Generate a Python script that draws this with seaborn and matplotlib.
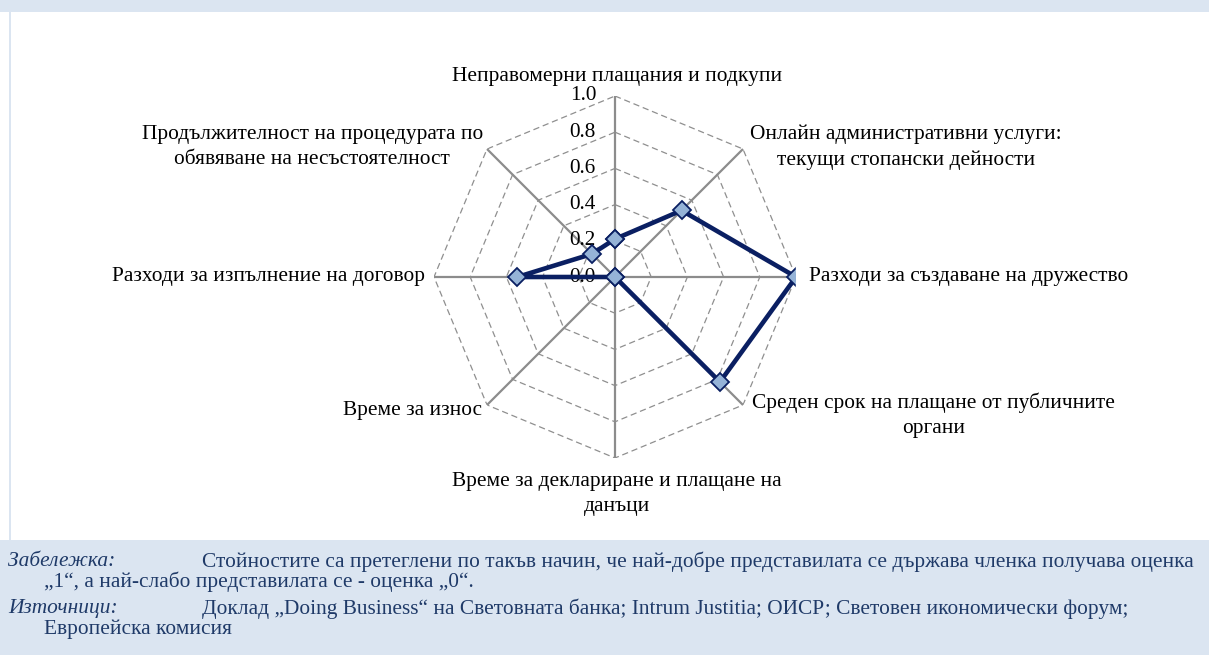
import numpy as np
import pandas as pd
import matplotlib
matplotlib.use("Agg")
import matplotlib.pyplot as plt
from matplotlib.patches import Rectangle
import seaborn as sns

# ---- data ----
categories = [
    "Неправомерни плащания и подкупи",
    "Онлайн административни услуги:\nтекущи стопански дейности",
    "Разходи за създаване на дружество",
    "Среден срок на плащане от публичните\nоргани",
    "Време за деклариране и плащане на\nданъци",
    "Време за износ",
    "Разходи за изпълнение на договор",
    "Продължителност на процедурата по\nобявяване на несъстоятелност",
]
values = [0.21, 0.52, 1.00, 0.82, 0.00, 0.00, 0.54, 0.18]
radial_ticks = [0.0, 0.2, 0.4, 0.6, 0.8, 1.0]
radial_tick_labels = ["0.0", "0.2", "0.4", "0.6", "0.8", "1.0"]
note_label = "Забележка:"
note_text_1 = "Стойностите са претеглени по такъв начин, че най-добре представилата се държава членка получава оценка"
note_text_2 = "„1“, а най-слабо представилата се - оценка „0“."
src_label = "Източници:"
src_text_1 = "Доклад „Doing Business“ на Световната банка; Intrum Justitia; ОИСР; Световен икономически форум;"
src_text_2 = "Европейска комисия"

W, H = 1209, 655
sns.set_theme(style="white")
plt.rcParams["font.family"] = ["Liberation Serif", "DejaVu Serif"]

fig = plt.figure(figsize=(W / 100, H / 100), dpi=100)
fig.patch.set_facecolor("white")

band = "#DBE5F1"
def px(x, y):
    return x / W, 1 - y / H

# top band, footer band, left border
fig.patches.append(Rectangle((0, 1 - 12 / H), 1, 12 / H, transform=fig.transFigure,
                             facecolor=band, edgecolor="none", zorder=0))
fig.patches.append(Rectangle((0, 0), 1, (H - 540) / H, transform=fig.transFigure,
                             facecolor=band, edgecolor="none", zorder=0))
fig.patches.append(Rectangle((9 / W, (H - 540) / H), 2 / W, 528 / H, transform=fig.transFigure,
                             facecolor=band, edgecolor="none", zorder=0))

# radar axes: centre (615,277), radius 181 px
cx, cy, R = 615, 277, 181
ax = fig.add_axes([(cx - R) / W, (H - cy - R) / H, 2 * R / W, 2 * R / H], projection="polar")
ax.set_theta_zero_location("N")
ax.set_theta_direction(-1)
ax.set_ylim(0, 1)
ax.grid(False)
ax.spines["polar"].set_visible(False)
ax.patch.set_alpha(0)

n = len(categories)
angles = np.arange(n) * 2 * np.pi / n
closed_angles = np.append(angles, 2 * np.pi)

# octagon grid
for r in radial_ticks[1:]:
    ax.plot(closed_angles, [r] * (n + 1), color="#8f8f8f", lw=0.9, ls=(0, (5, 3)), zorder=1)
# spokes
for a in angles:
    ax.plot([a, a], [0, 1], color="#8c8c8c", lw=1.6, zorder=2)

# series
df = pd.DataFrame({"theta": closed_angles, "value": values + [values[0]]})
sns.lineplot(data=df, x="theta", y="value", sort=False, estimator=None, ax=ax,
             color="#0A1F62", lw=3.3, marker="D", markersize=9,
             markerfacecolor="#95B3D7", markeredgecolor="#0A1F62", markeredgewidth=1.3,
             zorder=5, legend=False)
ax.set_xlabel("")
ax.set_ylabel("")
ax.set_ylim(0, 1)
ax.set_xticks([])
ax.set_yticks([])

# radial tick labels
for r, lab in zip(radial_ticks, radial_tick_labels):
    ax.annotate(lab, xy=(0, r), xytext=(-19, 0), textcoords="offset pixels",
                ha="right", va="center", fontsize=15.3, color="black", zorder=3)

# category labels: (offset px, ha, va)
lab_fmt = [
    ((2, 20), "center", "center"),
    ((7, 2), "left", "center"),
    ((13, 0), "left", "center"),
    ((9, -10), "left", "center"),
    ((2, -36), "center", "center"),
    ((-5, -6), "right", "center"),
    ((-9, 0), "right", "center"),
    ((-4, 2), "right", "center"),
]
for a, lab, (off, ha, va) in zip(angles, categories, lab_fmt):
    ax.annotate(lab, xy=(a, 1.0), xytext=off, textcoords="offset pixels",
                ha=ha, va=va, multialignment="center", fontsize=15.4,
                color="black", annotation_clip=False, linespacing=1.45)

# footer
fc = "#1F3A68"
fs = 15.4
fig.text(*px(8, 562), note_label, fontsize=fs, style="italic", color=fc, va="center")
fig.text(*px(202, 562), note_text_1, fontsize=fs, color=fc, va="center")
fig.text(*px(44, 582), note_text_2, fontsize=fs, color=fc, va="center")
fig.text(*px(8, 609), src_label, fontsize=fs, style="italic", color=fc, va="center")
fig.text(*px(202, 609), src_text_1, fontsize=fs, color=fc, va="center")
fig.text(*px(44, 629), src_text_2, fontsize=fs, color=fc, va="center")

fig.savefig("out.png", dpi=100, facecolor=fig.get_facecolor())
